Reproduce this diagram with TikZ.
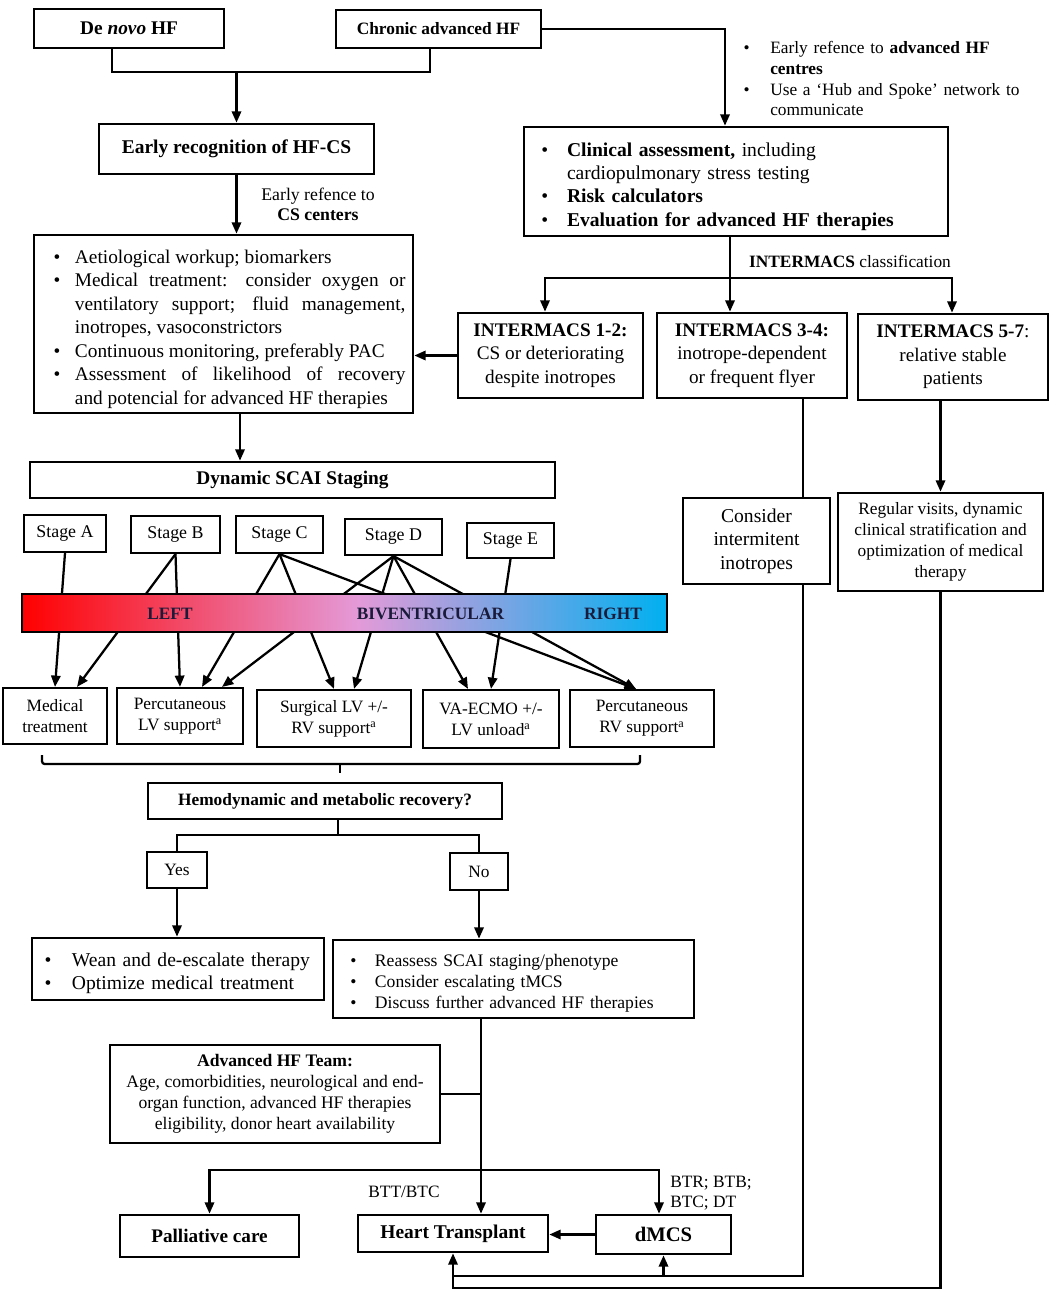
\documentclass[tikz,border=0pt]{standalone}
\usepackage{fontspec}
\setmainfont{Liberation Serif}
\usetikzlibrary{arrows.meta}
\definecolor{barred}{HTML}{FF0000}
\definecolor{barpink}{HTML}{E49AD8}
\definecolor{barblue}{HTML}{00B0F0}
\definecolor{bartext}{HTML}{1A1A3A}
\pgfdeclarehorizontalshading{ventr}{100bp}{color(0bp)=(barred); color(25bp)=(barred); color(51bp)=(barpink); color(75bp)=(barblue); color(100bp)=(barblue)}
\newcommand\bul[2]{\par\noindent\hangindent=#1\hangafter=1\makebox[#1][l]{\hspace{#2}\textbullet}\ignorespaces}
\begin{document}
\begin{tikzpicture}[x=0.75pt,y=-0.75pt,
  bx/.style={draw, line width=2pt, inner sep=0pt, align=center},
  thin/.style={line width=1.6pt},
  sz/.style 2 args={minimum width=#1*0.75pt, minimum height=#2*0.75pt},
  fs/.style 2 args={font=\fontsize{#1pt}{#2pt}\selectfont},
  ln/.style={line width=1.7pt},
  arr/.style={line width=1.7pt, -{Triangle[length=8.5pt,width=7pt]}},
  lbl/.style={inner sep=0pt, align=left}]
\fill[white] (0,0) rectangle (1051,1294);
\useasboundingbox (0,0) rectangle (1051,1294);
% top
\node[bx, sz={190}{39}, fs={14.5}{17}] (denovo) at (129,28.5) {\textbf{De \textit{novo} HF}};
\node[bx, sz={205}{38}, fs={13}{16}] (chronic) at (438.5,29) {\textbf{Chronic advanced HF}};
\node[bx, sz={275}{50}, fs={14.6}{17}] (early) at (236.5,149) {\textbf{Early recognition of HF-CS}};
\node[lbl, anchor=west, text width=213.75pt, fs={13}{15.5}] (refnote) at (740,74.5) {\bul{22.5pt}{2.6pt}Early refence to \textbf{advanced HF}\newline\textbf{centres}\bul{22.5pt}{2.6pt}Use a ‘Hub and Spoke’ network to\newline communicate\par};
\node[bx, sz={424}{109}, text width=306pt, inner xsep=6pt, align=left, fs={14.7}{17.5}] (clinical) at (736,181.5) {\bul{26.25pt}{7.1pt}\textbf{Clinical assessment,} including\newline cardiopulmonary stress testing\bul{26.25pt}{7.1pt}\textbf{Risk calculators}\bul{26.25pt}{7.1pt}\textbf{Evaluation for advanced HF therapies}\par};
\node[bx, sz={379}{178}, text width=273pt, inner xsep=5.625pt, align=justify, fs={14.5}{17.6}] (aetio) at (223.5,324) {\bul{25.1pt}{9pt}Aetiological workup; biomarkers\bul{25.1pt}{9pt}Medical treatment: consider oxygen or\linebreak ventilatory support; fluid management,\linebreak inotropes, vasoconstrictors\bul{25.1pt}{9pt}Continuous monitoring, preferably PAC\bul{25.1pt}{9pt}Assessment of likelihood of recovery\linebreak and potencial for advanced HF therapies\par};
\node[lbl, align=center, fs={13.3}{15}] (erefcs) at (318,204) {Early refence to\\\textbf{CS centers}};
\coordinate (x112) at (112,0);
\coordinate (x430) at (430,0);
\coordinate (j1) at (236.5,72);
\draw[ln] (denovo.south -| x112) |- (j1) -| (chronic.south -| x430);
\draw[arr] (j1) -- (early.north);
\draw[arr] (early.south) -- (aetio.north -| early.south);
\coordinate (x725) at (725,0);
\draw[arr] (chronic.east) -| (clinical.north -| x725);
% intermacs
\node[bx, sz={185}{85}, fs={14.4}{17.6}] (im12) at (550.5,355.5) {\textbf{INTERMACS 1-2:}\\CS or deteriorating\\despite inotropes};
\node[bx, sz={190}{85}, fs={14.4}{17.6}] (im34) at (752,355.5) {\textbf{INTERMACS 3-4:}\\inotrope-dependent\\or frequent flyer};
\node[bx, sz={190}{86}, fs={14.4}{17.6}] (im57) at (953,357) {\textbf{INTERMACS 5-7}:\\relative stable\\patients};
\coordinate (isplit) at (730,278);
\coordinate (x545) at (545,0);
\coordinate (x952) at (952,0);
\draw[arr] (clinical.south -| isplit) -- (im34.north -| isplit);
\draw[arr] (isplit) -| (im12.north -| x545);
\draw[arr] (isplit) -| (im57.north -| x952);
\node[lbl, fs={13}{15}] (imcls) at (850,261) {\textbf{INTERMACS} classification};
\draw[arr] (im12.west) -- (im12.west -| aetio.east);
% SCAI
\node[bx, sz={525}{36}, fs={14.5}{17}] (scai) at (292.5,480) {\textbf{Dynamic SCAI Staging}};
\coordinate (x240) at (240,0);
\draw[arr] (aetio.south -| x240) -- (scai.north -| x240);
% stages
\node[bx, thin, sz={82}{37}, fs={13.4}{16}] (sA) at (65,533.5) {Stage A};
\node[bx, thin, sz={89}{37}, fs={13.4}{16}] (sB) at (175.5,534.5) {Stage B};
\node[bx, thin, sz={87}{37}, fs={13.4}{16}] (sC) at (279.5,534.5) {Stage C};
\node[bx, thin, sz={97}{36}, fs={13.4}{16}] (sD) at (393.5,537) {Stage D};
\node[bx, thin, sz={87}{35}, fs={13.4}{16}] (sE) at (510.5,540.5) {Stage E};
% targets
\node[bx, thin, sz={104}{56}, fs={13}{15.75}] (med) at (55,716) {Medical\\treatment};
\node[bx, thin, sz={126}{56}, fs={13}{15.75}] (plv) at (180,716) {Percutaneous\\LV support\textsuperscript{a}};
\node[bx, thin, sz={154}{57}, fs={13}{15.75}] (slv) at (334,718.5) {Surgical LV +/-\\RV support\textsuperscript{a}};
\node[bx, thin, sz={136}{58}, fs={13}{15.75}] (ecmo) at (491,719) {VA-ECMO +/-\\LV unload\textsuperscript{a}};
\node[bx, thin, sz={144}{57}, fs={13}{15.75}] (prv) at (642,718.5) {Percutaneous\\RV support\textsuperscript{a}};
\draw[arr] (sA.south) -- (med.north);
\draw[arr] (sB.south) -- ([xshift=16.5pt]med.north);
\draw[arr] (sB.south) -- (plv.north);
\draw[arr] (sC.south) -- ([xshift=16.5pt]plv.north);
\draw[arr] (sC.south) -- (slv.north);
\draw[arr] (sC.south) -- ([xshift=-4.5pt]prv.north);
\draw[arr] (sD.south) -- ([xshift=31.5pt]plv.north);
\draw[arr] (sD.south) -- ([xshift=15pt]slv.north);
\draw[arr] (sD.south) -- ([xshift=-17.25pt]ecmo.north);
\draw[arr] (sD.south) -- ([xshift=-4.5pt]prv.north);
\draw[arr] (sE.south) -- (ecmo.north);
% bar
\node[draw, line width=1.7pt, shade, shading=ventr, sz={645}{38}, inner sep=0pt] (bar) at (344.5,613) {};
\node[fs={13}{15}, text=bartext, inner sep=0pt] (lleft) at (170,614) {\textbf{LEFT}};
\node[fs={13}{15}, text=bartext, inner sep=0pt] (lbiv) at (430.5,614) {\textbf{BIVENTRICULAR}};
\node[fs={13}{15}, text=bartext, inner sep=0pt] (lright) at (613,614) {\textbf{RIGHT}};
% bracket
\coordinate (brL) at (42,755);
\coordinate (brR) at (640,755);
\coordinate (brC) at (340,764);
\draw[ln, rounded corners=2pt] (brL) |- (brC) -| (brR);
\draw[ln] (brC) -- ++(0,9);
% recovery
\node[bx, sz={354}{36}, fs={13}{16}] (hemo) at (325,801) {\textbf{Hemodynamic and metabolic recovery?}};
\node[bx, sz={60}{36}, fs={13}{16}] (yes) at (177,870) {Yes};
\node[bx, sz={58}{37}, fs={13}{16}] (no) at (479,871.5) {No};
\coordinate (split) at (338,835);
\draw[ln] (hemo.south -| split) -- (split);
\draw[ln] (yes.north) |- (split) -| (no.north);
\node[bx, sz={292}{62}, text width=210pt, inner xsep=4.5pt, align=left, fs={14.7}{17.3}] (wean) at (178,969) {\bul{25.5pt}{4.9pt}Wean and de-escalate therapy\bul{25.5pt}{4.9pt}Optimize medical treatment\par};
\node[bx, sz={361}{78}, text width=261.75pt, inner xsep=4.5pt, align=left, fs={13.2}{15.75}] (reass) at (513.5,979) {\bul{27pt}{8.6pt}Reassess SCAI staging/phenotype\bul{27pt}{8.6pt}Consider escalating tMCS\bul{27pt}{8.6pt}Discuss further advanced HF therapies\par};
\draw[arr] (yes.south) -- (yes.south |- wean.north);
\draw[arr] (no.south) -- (no.south |- reass.north);
\node[bx, sz={330}{98}, fs={13.2}{15.75}] (team) at (275,1094) {\textbf{Advanced HF Team:}\\Age, comorbidities, neurological and end-\\organ function, advanced HF therapies\\eligibility, donor heart availability};
% bottom
\node[bx, sz={179}{42}, fs={14.4}{17}] (pall) at (209.5,1236) {\textbf{Palliative care}};
\node[bx, sz={190}{37}, fs={14.6}{17}] (ht) at (453,1233.5) {\textbf{Heart Transplant}};
\node[bx, sz={135}{39}, fs={15.5}{17}] (dmcs) at (663.5,1234.5) {\textbf{dMCS}};
\coordinate (trunk) at (481,1094);
\draw[arr] (reass.south -| trunk) -- (ht.north -| trunk);
\draw[ln] (team.east) -- (trunk);
\coordinate (hmid) at (481,1170);
\coordinate (x659) at (659,0);
\draw[arr] (hmid) -| (pall.north);
\draw[arr] (hmid) -| (dmcs.north -| x659);
\node[lbl, fs={13}{15}] (btt) at (404,1192) {BTT/BTC};
\node[lbl, anchor=west, fs={13}{15}] (btr) at (670,1193) {BTR; BTB;\\BTC; DT};
\draw[arr] (dmcs.west) -- (dmcs.west -| ht.east);
% right column
\node[bx, sz={147}{86}, fs={14.7}{17.6}] (consider) at (756.5,541) {Consider\\intermitent\\inotropes};
\node[bx, sz={205}{98}, fs={13}{15.75}] (regular) at (940.5,542) {Regular visits, dynamic\\clinical stratification and\\optimization of medical\\therapy};
\coordinate (v34) at (803,0);
\coordinate (b1) at (453,1276);
\coordinate (b2) at (453,1288);
\draw[ln] (im34.south -| v34) -- (consider.north -| v34);
\draw[ln] (consider.south -| v34) |- (b1);
\draw[arr] (im57.south -| regular.north) -- (regular.north);
\draw[arr] (regular.south) |- (b2) -- (ht.south);
\draw[arr] (dmcs.south |- b1) -- (dmcs.south);
\end{tikzpicture}
\end{document}
